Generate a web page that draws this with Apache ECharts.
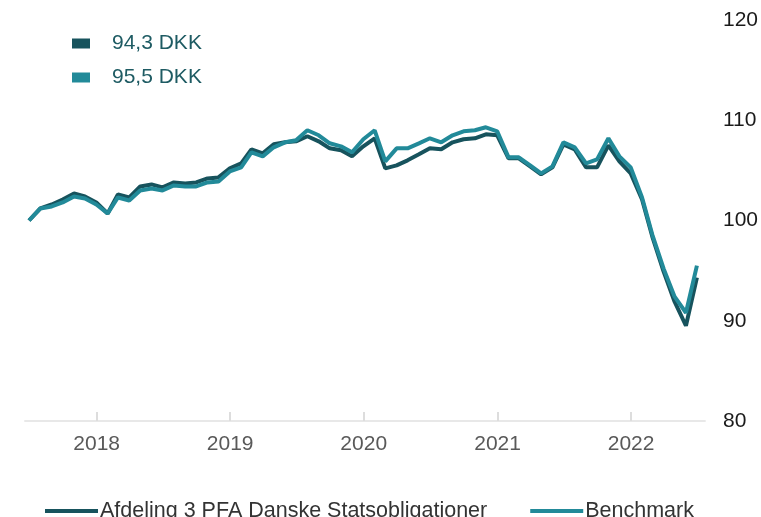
<!DOCTYPE html>
<html>
<head>
<meta charset="utf-8">
<script src="https://cdn.jsdelivr.net/npm/echarts@6/dist/echarts.min.js"></script>
<style>
  html, body { margin: 0; padding: 0; background: #fff; }
  #main { width: 761px; height: 517px; }
</style>
</head>
<body>
<div id="main"></div>
<script>
// Month-end observations, June 2017 - June 2022
const startYear = 2017;
const startMonth = 6; // June
const fundName = 'Afdeling 3 PFA Danske Statsobligationer';
const benchName = 'Benchmark';

const fund = [100, 101.2, 101.6, 102.1, 102.7, 102.4, 101.8, 100.7, 102.6, 102.3,
    103.4, 103.6, 103.3, 103.8, 103.7, 103.8, 104.2, 104.3, 105.2, 105.7,
    107.1, 106.7, 107.6, 107.8, 107.9, 108.4, 107.9, 107.2, 107.0, 106.4,
    107.4, 108.2, 105.2, 105.5, 106.0, 106.6, 107.2, 107.1, 107.8, 108.1,
    108.2, 108.6, 108.5, 106.2, 106.2, 105.4, 104.6, 105.3, 107.6, 107.1,
    105.3, 105.3, 107.5, 105.9, 104.7, 102.1, 98.4, 94.9, 91.9, 89.5, 94.3];

const bench = [100, 101.2, 101.4, 101.8, 102.4, 102.2, 101.6, 100.7, 102.3, 102.0,
    103.0, 103.2, 103.0, 103.5, 103.4, 103.4, 103.8, 103.9, 104.9, 105.3,
    106.8, 106.4, 107.3, 107.8, 108.0, 109.0, 108.5, 107.7, 107.4, 106.8,
    108.1, 109.0, 105.9, 107.2, 107.2, 107.7, 108.2, 107.8, 108.5, 108.9,
    109.0, 109.3, 108.9, 106.3, 106.3, 105.5, 104.7, 105.4, 107.8, 107.3,
    105.7, 106.1, 108.2, 106.4, 105.3, 102.3, 98.6, 95.2, 92.4, 90.8, 95.5];

const yTicks = [80, 90, 100, 110, 120];

// month-end dates for the x axis
const dates = fund.map((v, i) => {
    const d = new Date(Date.UTC(startYear, startMonth - 1 + i + 1, 0));
    return d.toISOString().slice(0, 10);
});

const fundColor = '#17535d';
const benchColor = '#228a99';

const lastValue = {};
lastValue[fundName] = fund[fund.length - 1];
lastValue[benchName] = bench[bench.length - 1];

const myChart = echarts.init(document.getElementById('main'));

let option;

option = {
    animation: false,
    textStyle: { fontFamily: 'Liberation Sans, Arial, sans-serif' },
    grid: { left: 25, right: 54, top: 20, bottom: 96 },
    legend: [
        {
            data: [fundName, benchName],
            orient: 'vertical',
            left: 67,
            top: 28,
            icon: 'rect',
            itemWidth: 18,
            itemHeight: 10,
            itemGap: 13,
            selectedMode: false,
            formatter: name => lastValue[name].toFixed(1).replace('.', ',') + ' DKK',
            textStyle: { fontSize: 21, color: '#1e5b63', padding: [0, 0, 0, 17] }
        },
        {
            data: [fundName, benchName],
            left: 40,
            top: 495,
            icon: 'rect',
            itemWidth: 53,
            itemHeight: 4,
            itemGap: 43,
            selectedMode: false,
            textStyle: { fontSize: 21.5, color: '#333', padding: [0, 0, 0, -3] }
        }
    ],
    xAxis: {
        type: 'time',
        min: '2017-06-19',
        max: '2022-07-22',
        minInterval: 365 * 24 * 3600 * 1000,
        maxInterval: 366 * 24 * 3600 * 1000,
        axisLine: { lineStyle: { color: '#e8e8e8', width: 2 } },
        axisTick: { show: true, inside: true, length: 9, lineStyle: { color: '#dddddd', width: 2 } },
        axisLabel: {
            formatter: '{yyyy}',
            fontSize: 21,
            color: '#595959',
            margin: 13,
            showMinLabel: false,
            showMaxLabel: false
        },
        splitLine: { show: false }
    },
    yAxis: {
        type: 'value',
        position: 'right',
        min: yTicks[0],
        max: yTicks[yTicks.length - 1],
        interval: 10,
        axisLine: { show: false },
        axisTick: { show: false },
        splitLine: { show: false },
        axisLabel: { fontSize: 21, color: '#1a1a1a', margin: 18 }
    },
    series: [
        {
            name: fundName,
            type: 'line',
            showSymbol: false,
            color: fundColor,
            lineStyle: { width: 4, color: fundColor },
            data: dates.map((d, i) => [d, fund[i]])
        },
        {
            name: benchName,
            type: 'line',
            showSymbol: false,
            color: benchColor,
            lineStyle: { width: 4, color: benchColor },
            data: dates.map((d, i) => [d, bench[i]])
        }
    ]
};

option && myChart.setOption(option);
</script>
</body>
</html>
